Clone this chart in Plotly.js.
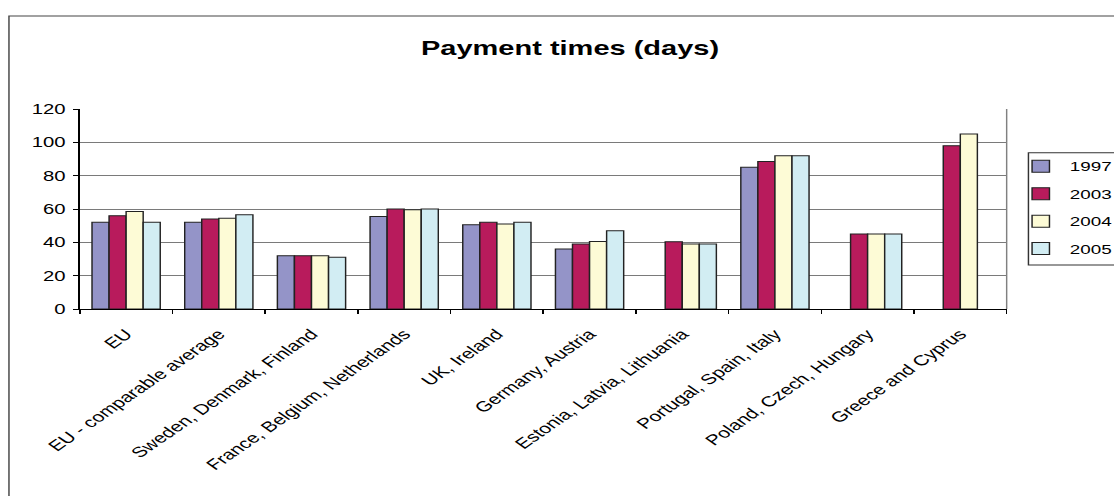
<!DOCTYPE html>
<html>
<head>
<meta charset="utf-8">
<script src="https://cdn.plot.ly/plotly-3.0.1.min.js"></script>
<style>
  html, body { margin: 0; padding: 0; overflow: hidden; background: #ffffff; }
  #chart { width: 768px; height: 496px; transform: scaleX(1.450521); transform-origin: 0 0; }
</style>
</head>
<body>
<div id="chart"></div>
<script>
const categories = [
  "EU",
  "EU - comparable average",
  "Sweden, Denmark, Finland",
  "France, Belgium, Netherlands",
  "UK, Ireland",
  "Germany, Austria",
  "Estonia, Latvia, Lithuania",
  "Portugal, Spain, Italy",
  "Poland, Czech, Hungary",
  "Greece and Cyprus"
];
const seriesNames = ["1997", "2003", "2004", "2005"];
const values1997 = [52, 52, 32, 55.5, 50.5, 36, null, 85, null, null];
const values2003 = [56, 54, 32, 60, 52, 39, 40.3, 88.5, 45, 98];
const values2004 = [58.5, 54.5, 32, 59.5, 51, 40.5, 39, 92, 45, 105];
const values2005 = [52, 56.5, 31, 60, 52, 47, 39, 92, 45, null];
const seriesColors = ["#9494C8", "#B81B5C", "#FDFBD6", "#D2EDF3"];
const yTicks = [0, 20, 40, 60, 80, 100, 120];

const allValues = [values1997, values2003, values2004, values2005];
const FONT = "Liberation Sans, Arial, sans-serif";

const traces = allValues.map((vals, i) => ({
  type: "bar",
  name: seriesNames[i],
  x: categories,
  y: vals,
  legendgroup: "g" + i,
  marker: { color: seriesColors[i], line: { color: "#222222", width: 1 } },
  hoverinfo: "skip"
}));

const layout = {
  width: 768,
  height: 496,
  margin: { l: 55, r: 74, t: 109, b: 187, pad: 0, autoexpand: false },
  paper_bgcolor: "#ffffff",
  plot_bgcolor: "#ffffff",
  barmode: "group",
  bargap: 0.264,
  bargroupgap: 0,
  title: {
    text: "Payment times (days)",
    font: { family: FONT, size: 20, color: "#000000", weight: "bold" },
    x: 0.5117, xref: "container", xanchor: "center",
    y: 0.903, yref: "container", yanchor: "middle"
  },
  xaxis: {
    type: "category",
    tickangle: -45,
    tickson: "boundaries",
    ticks: "outside",
    ticklen: 4,
    tickcolor: "#000000",
    ticklabelstandoff: 10,
    showline: true,
    linecolor: "#000000",
    linewidth: 1,
    showgrid: false,
    tickfont: { family: FONT, size: 14.5, color: "#000000" },
    automargin: false
  },
  yaxis: {
    range: [0, 120],
    tickvals: yTicks,
    ticktext: yTicks.map(String),
    ticks: "outside",
    ticklen: 4,
    tickcolor: "#000000",
    ticklabelstandoff: 2,
    showline: true,
    linecolor: "#000000",
    linewidth: 1,
    showgrid: true,
    gridcolor: "#7a7a7a",
    gridwidth: 1,
    zeroline: false,
    tickfont: { family: FONT, size: 14, color: "#000000" },
    automargin: false
  },
  showlegend: true,
  legend: {
    x: 1.0055, xanchor: "left",
    y: 0.788, yanchor: "top",
    bgcolor: "rgba(0,0,0,0)",
    borderwidth: 0,
    tracegroupgap: 7.5,
    traceorder: "grouped",
    font: { family: FONT, size: 13, color: "#000000" }
  },
  shapes: [
    { type: "line", xref: "paper", yref: "paper", x0: 1, x1: 1, y0: 0, y1: 1,
      line: { color: "#808080", width: 1 } },
    { type: "rect", xref: "paper", yref: "paper", x0: 1.0235, x1: 1.3, y0: 0.22, y1: 0.7815,
      line: { color: "#333333", width: 1 } },
    { type: "rect", xref: "paper", yref: "paper", x0: -0.0764, x1: 1.5, y0: -2, y1: 1.465,
      line: { color: "#444444", width: 1 } }
  ],
  hovermode: false
};

Plotly.newPlot("chart", traces, layout, { staticPlot: true, displayModeBar: false, responsive: false });
</script>
</body>
</html>
